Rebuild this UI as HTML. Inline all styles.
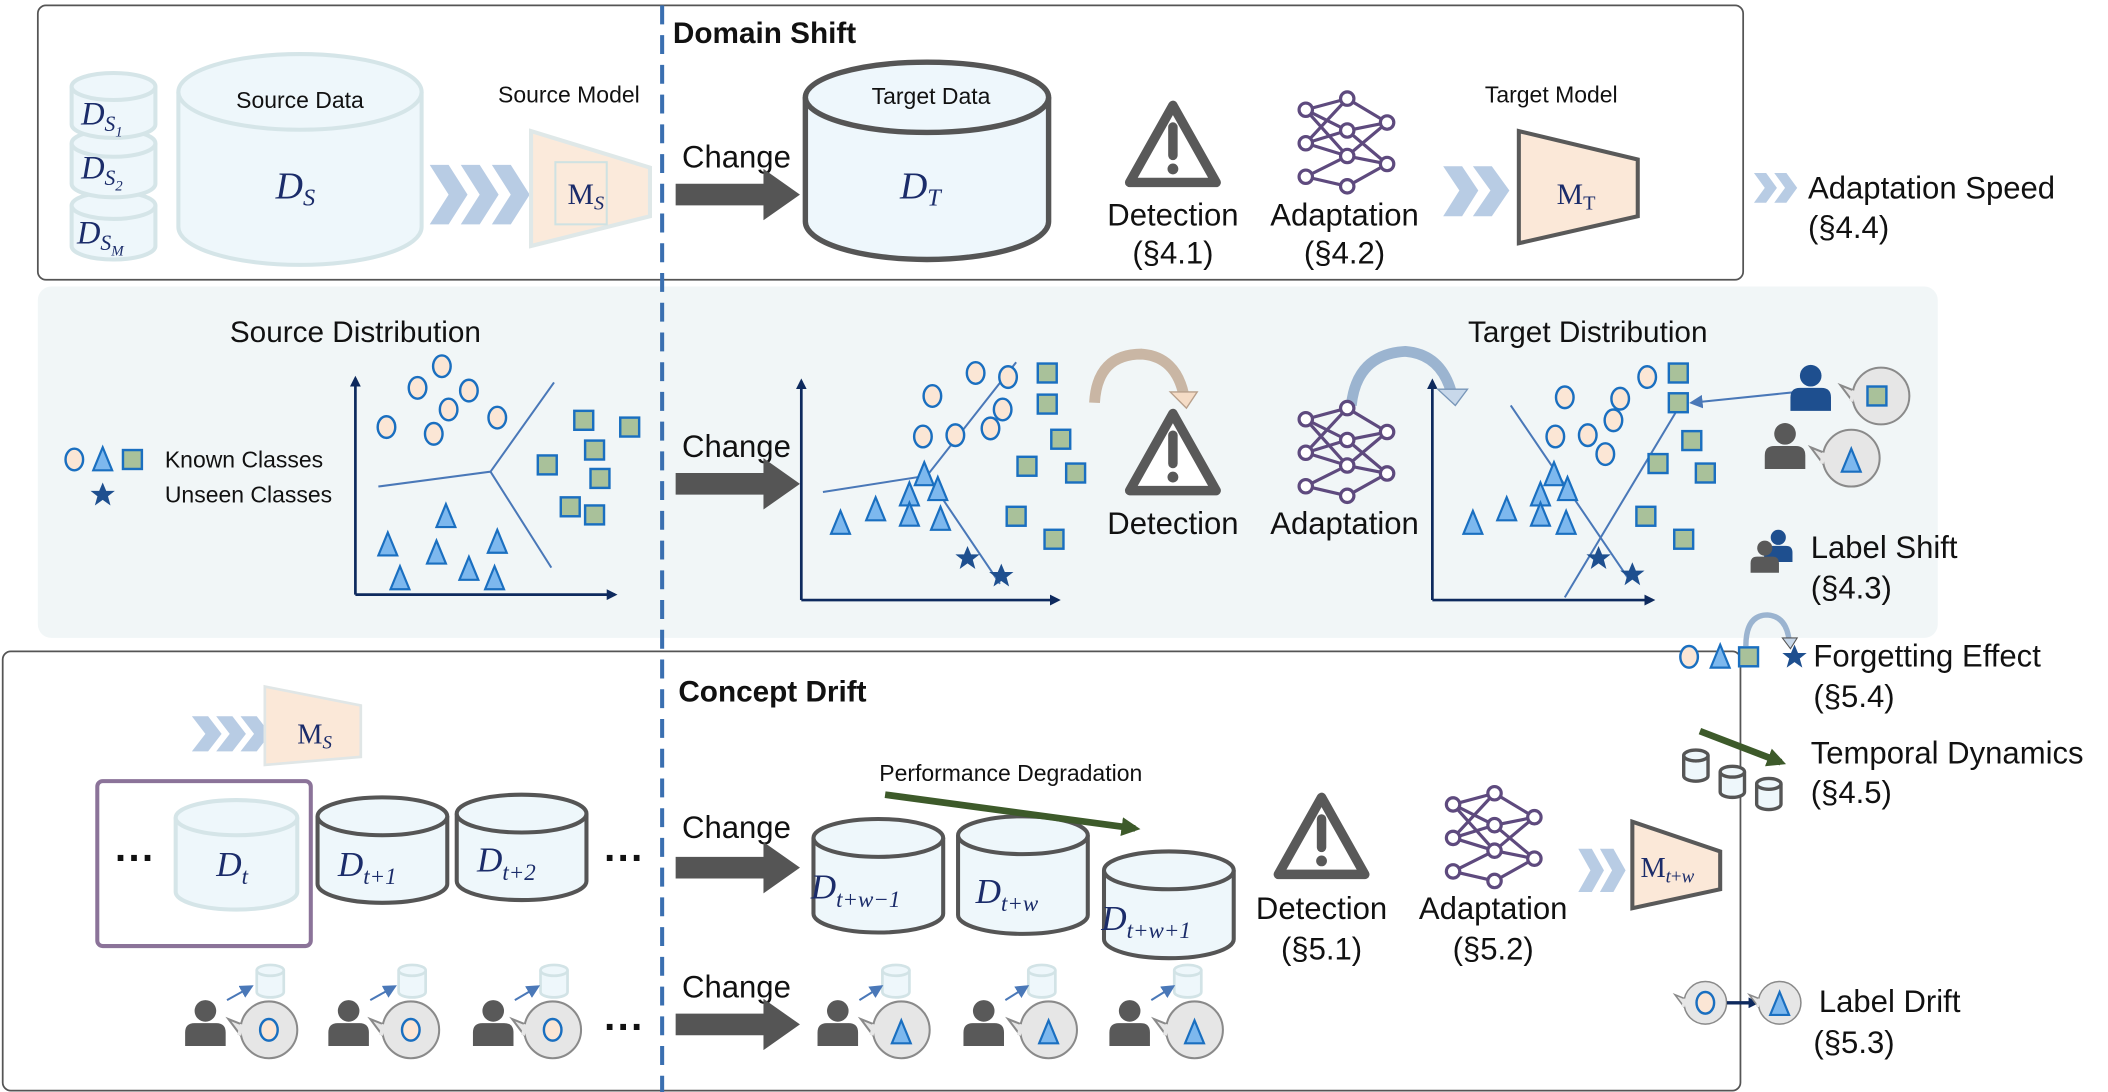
<!DOCTYPE html>
<html><head><meta charset="utf-8"><style>
html,body{margin:0;padding:0;background:#fff}
svg{display:block}
text{font-family:"Liberation Sans",sans-serif;fill:#111}
.m{font-family:"Liberation Serif",serif;font-style:italic;fill:#1b2c6a}
.r{font-family:"Liberation Serif",serif;fill:#1b2c6a}
</style></head><body>
<svg width="2108" height="1092" viewBox="0 0 1560 808" preserveAspectRatio="none" xmlns="http://www.w3.org/2000/svg">
<defs>
<marker id="ah" markerWidth="8" markerHeight="8" refX="6" refY="4" orient="auto" markerUnits="userSpaceOnUse"><path d="M0,0 L8,4 L0,8 Z" fill="#0e2a5e"/></marker>
<marker id="ab" markerWidth="10" markerHeight="10" refX="8" refY="5" orient="auto" markerUnits="userSpaceOnUse"><path d="M0,0 L10,5 L0,10 Z" fill="#4a78b8"/></marker>
<marker id="ag" markerWidth="14" markerHeight="14" refX="10" refY="7" orient="auto" markerUnits="userSpaceOnUse"><path d="M0,0 L14,7 L0,14 Z" fill="#3d5a2a"/></marker>
<g id="warn"><path d="M0,-30 L32,27 L-32,27 Z" fill="#fff" stroke="#595959" stroke-width="7" stroke-linejoin="round"/><line x1="0" y1="-14" x2="0" y2="7" stroke="#595959" stroke-width="7" stroke-linecap="round"/><circle cx="0" cy="17" r="4" fill="#595959"/></g>
<g id="net0" stroke="#5e4a7e" stroke-width="2" fill="#fff">
<path d="M-26,-21 L0,-28 M-26,-21 L0,-8 M-26,0 L0,-8 M-26,0 L0,8 M-26,0 L0,-28 M-26,21 L0,8 M-26,21 L0,27 M-26,-21 L0,8 M0,-28 L25,-13 M0,-8 L25,-13 M0,-8 L25,13 M0,8 L25,13 M0,8 L25,-13 M0,27 L25,13"/>
<circle cx="-26" cy="-21" r="4.2"/><circle cx="0" cy="-28" r="4.2"/><circle cx="25" cy="-13" r="4.2"/><circle cx="0" cy="-8" r="4.2"/><circle cx="-26" cy="0" r="4.2"/><circle cx="0" cy="8" r="4.2"/><circle cx="25" cy="13" r="4.2"/><circle cx="-26" cy="21" r="4.2"/><circle cx="0" cy="27" r="4.2"/></g>
<g id="net"><g transform="scale(1.18)"><use href="#net0"/></g></g>
<ellipse id="c" cx="0" cy="0" rx="6.5" ry="8" fill="#fbe6d5" stroke="#1a6fc0" stroke-width="1.8"/>
<rect id="s" x="-7" y="-7" width="14" height="14" fill="#a9c19a" stroke="#1a6fc0" stroke-width="1.8"/>
<path id="t" d="M0,-9 L7,8 L-7,8 Z" fill="#7db8ee" stroke="#1a6fc0" stroke-width="1.6"/>
<path id="st" d="M0,-9 L2.6,-2.8 L9,-2.8 L3.9,1.2 L5.8,8 L0,3.9 L-5.8,8 L-3.9,1.2 L-9,-2.8 L-2.6,-2.8 Z" fill="#1e4f8f"/>
<g id="per"><circle cx="0" cy="-12" r="8" fill="#595959"/><path d="M-15,14 L-15,4 Q-15,-3 -8,-3 L8,-3 Q15,-3 15,4 L15,14 Z" fill="#595959"/></g>
<g id="bub"><path d="M-20,-4 L-30,-8 L-21,4 Z" fill="#e6e6e6" stroke="#8a8a8a" stroke-width="1.5"/><circle cx="0" cy="0" r="21" fill="#e6e6e6" stroke="#8a8a8a" stroke-width="1.5"/><path d="M-20,-4 L-22,4" stroke="#e6e6e6" stroke-width="3"/></g>
<g id="scyl"><path d="M-10,-6 L-10,10 A10,4 0 0 0 10,10 L10,-6" fill="#eef7fb" stroke="#d2e3e6" stroke-width="2"/><ellipse cx="0" cy="-6" rx="10" ry="4" fill="#eef7fb" stroke="#d2e3e6" stroke-width="2"/></g>
<g id="dcyl"><path d="M-9,-6 L-9,9 A9,4 0 0 0 9,9 L9,-6" fill="#eef7fb" stroke="#555" stroke-width="2.5"/><ellipse cx="0" cy="-6" rx="9" ry="4" fill="#eef7fb" stroke="#555" stroke-width="2.5"/></g>
</defs>

<rect x="28" y="4" width="1262" height="203" rx="6" fill="#fff" stroke="#555" stroke-width="1.3"/>
<rect x="28" y="212" width="1406" height="260" rx="10" fill="#f1f6f7"/>
<rect x="2" y="482" width="1286" height="325" rx="6" fill="#fff" stroke="#555" stroke-width="1.3"/>
<line x1="490" y1="4" x2="490" y2="808" stroke="#3a6fb0" stroke-width="3" stroke-dasharray="14,8"/>

<text x="498" y="32" font-size="22" font-weight="bold">Domain Shift</text>
<g fill="#eef7fb" stroke="#d5e5e8" stroke-width="3">
<path d="M53,152 L53,182 A31,10 0 0 0 115,182 L115,152"/><ellipse cx="84" cy="152" rx="31" ry="10"/>
<path d="M53,106 L53,136 A31,10 0 0 0 115,136 L115,106"/><ellipse cx="84" cy="106" rx="31" ry="10"/>
<path d="M53,64 L53,92 A31,10 0 0 0 115,92 L115,64"/><ellipse cx="84" cy="64" rx="31" ry="10"/>
<path d="M132,68 L132,168 A90,28 0 0 0 312,168 L312,68"/><ellipse cx="222" cy="68" rx="90" ry="28"/>
</g>
<text class="m" x="60" y="92" font-size="24">D<tspan font-size="16" dy="5">S</tspan><tspan font-size="11" dy="4" class="r">1</tspan></text>
<text class="m" x="60" y="132" font-size="24">D<tspan font-size="16" dy="5">S</tspan><tspan font-size="11" dy="4" class="r">2</tspan></text>
<text class="m" x="57" y="180" font-size="24">D<tspan font-size="16" dy="5">S</tspan><tspan font-size="11" dy="4">M</tspan></text>
<text x="222" y="80" font-size="17" text-anchor="middle">Source Data</text>
<text class="m" x="204" y="147" font-size="28">D<tspan font-size="18" dy="5">S</tspan></text>
<g fill="#b8cce4"><path d="M318,122 L332,122 L346,144 L332,166 L318,166 L332,144Z"/><path d="M341,122 L355,122 L369,144 L355,166 L341,166 L355,144Z"/><path d="M364,122 L378,122 L392,144 L378,166 L364,166 L378,144Z"/></g>
<text x="421" y="76" font-size="17" text-anchor="middle">Source Model</text>
<path d="M393,97 L481,124 L481,160 L393,182 Z" fill="#fbeadb" stroke="#dfe8e8" stroke-width="3"/>
<rect x="411" y="120" width="38" height="46" fill="none" stroke="#cfe2e2" stroke-width="1.5"/>
<text class="r" x="420" y="151" font-size="22">M<tspan class="m" font-size="15" dy="4">S</tspan></text>
<text x="545" y="124" font-size="23" text-anchor="middle">Change</text>
<path d="M500,136 L565,136 L565,125 L592,144 L565,163 L565,152 L500,152Z" fill="#555"/>
<path d="M596,72 L596,164 A90,28 0 0 0 776,164 L776,72" fill="#eef7fc" stroke="#555" stroke-width="4"/><ellipse cx="686" cy="72" rx="90" ry="26" fill="#eef7fc" stroke="#555" stroke-width="4"/>
<text x="689" y="77" font-size="17" text-anchor="middle">Target Data</text>
<text class="m" x="666" y="147" font-size="28">D<tspan class="r" font-size="18" dy="5">T</tspan></text>
<use href="#warn" x="868" y="108"/>
<text x="868" y="167" font-size="23" text-anchor="middle">Detection</text>
<text x="868" y="195" font-size="23" text-anchor="middle">(§4.1)</text>
<use href="#net" x="997" y="106"/>
<text x="995" y="167" font-size="23" text-anchor="middle">Adaptation</text>
<text x="995" y="195" font-size="23" text-anchor="middle">(§4.2)</text>
<text x="1148" y="76" font-size="17" text-anchor="middle">Target Model</text>
<g fill="#b8cce4"><path d="M1068,123 L1082,123 L1094,141 L1082,160 L1068,160 L1080,141Z"/><path d="M1090,123 L1104,123 L1117,141 L1104,160 L1090,160 L1103,141Z"/></g>
<path d="M1124,97 L1212,118 L1212,160 L1124,180 Z" fill="#fbe8d8" stroke="#595959" stroke-width="3"/>
<text class="r" x="1152" y="151" font-size="22">M<tspan font-size="15" dy="4">T</tspan></text>
<g fill="#b8cce4"><path d="M1298,128 L1307,128 L1315,139 L1307,150 L1298,150 L1306,139Z"/><path d="M1313,128 L1322,128 L1330,139 L1322,150 L1313,150 L1321,139Z"/></g>
<text x="1338" y="147" font-size="23">Adaptation Speed</text>
<text x="1338" y="176" font-size="23">(§4.4)</text>

<text x="263" y="253" font-size="22" text-anchor="middle">Source Distribution</text>
<use href="#c" x="55" y="340"/><use href="#t" x="76" y="340"/><use href="#s" x="98" y="340"/><use href="#st" x="76" y="366"/>
<text x="122" y="346" font-size="17">Known Classes</text>
<text x="122" y="372" font-size="17">Unseen Classes</text>
<g stroke="#0e2a5e" stroke-width="2" fill="none"><path d="M263,440 L263,280" marker-end="url(#ah)"/><path d="M263,440 L455,440" marker-end="url(#ah)"/>
<path d="M593,444 L593,282" marker-end="url(#ah)"/><path d="M593,444 L783,444" marker-end="url(#ah)"/>
<path d="M1060,444 L1060,282" marker-end="url(#ah)"/><path d="M1060,444 L1223,444" marker-end="url(#ah)"/></g>
<g stroke="#4a78b8" stroke-width="1.5" fill="none"><path d="M280,360 L363,349 L410,283 M363,349 L408,420"/>
<path d="M609,364 L686,352 L752,268 M686,352 L740,432"/>
<path d="M1118,300 L1205,428 M1158,442 L1242,302"/></g>
<g><use href="#c" x="327" y="271"/><use href="#c" x="309" y="287"/><use href="#c" x="347" y="289"/><use href="#c" x="332" y="303"/><use href="#c" x="286" y="316"/><use href="#c" x="321" y="321"/><use href="#c" x="368" y="309"/>
<use href="#s" x="432" y="311"/><use href="#s" x="466" y="316"/><use href="#s" x="440" y="333"/><use href="#s" x="405" y="344"/><use href="#s" x="444" y="354"/><use href="#s" x="422" y="375"/><use href="#s" x="440" y="381"/>
<use href="#t" x="330" y="382"/><use href="#t" x="287" y="403"/><use href="#t" x="323" y="409"/><use href="#t" x="368" y="401"/><use href="#t" x="296" y="428"/><use href="#t" x="347" y="421"/><use href="#t" x="366" y="428"/></g>
<text x="545" y="338" font-size="23" text-anchor="middle">Change</text>
<path d="M500,350 L565,350 L565,339 L592,358 L565,377 L565,366 L500,366Z" fill="#555"/>
<g><use href="#c" x="722" y="276"/><use href="#c" x="746" y="279"/><use href="#c" x="690" y="293"/><use href="#c" x="742" y="303"/><use href="#c" x="733" y="317"/><use href="#c" x="683" y="323"/><use href="#c" x="707" y="322"/>
<use href="#s" x="775" y="276"/><use href="#s" x="775" y="299"/><use href="#s" x="785" y="325"/><use href="#s" x="760" y="345"/><use href="#s" x="796" y="350"/><use href="#s" x="752" y="382"/><use href="#s" x="780" y="399"/>
<use href="#t" x="684" y="351"/><use href="#t" x="673" y="366"/><use href="#t" x="694" y="362"/><use href="#t" x="622" y="387"/><use href="#t" x="648" y="377"/><use href="#t" x="673" y="381"/><use href="#t" x="696" y="384"/>
<use href="#st" x="716" y="413"/><use href="#st" x="741" y="426"/></g>
<path d="M810,298 Q812,262 845,262 Q870,264 876,292" fill="none" stroke="#c9b6a4" stroke-width="8"/><path d="M866,290 L886,290 L878,302Z" fill="#f5dcc6" stroke="#b8a08c"/>
<use href="#warn" x="868" y="336"/>
<text x="868" y="395" font-size="23" text-anchor="middle">Detection</text>
<path d="M1000,300 Q1004,262 1040,260 Q1066,262 1074,290" fill="none" stroke="#9bb4d0" stroke-width="8"/><path d="M1064,288 L1086,288 L1077,300Z" fill="#c8d8ea" stroke="#7896b8"/>
<use href="#net" x="997" y="335"/>
<text x="995" y="395" font-size="23" text-anchor="middle">Adaptation</text>
<text x="1175" y="253" font-size="22" text-anchor="middle">Target Distribution</text>
<g><use href="#c" x="1158" y="294"/><use href="#c" x="1199" y="295"/><use href="#c" x="1194" y="311"/><use href="#c" x="1175" y="322"/><use href="#c" x="1151" y="323"/><use href="#c" x="1219" y="279"/><use href="#c" x="1188" y="336"/>
<use href="#s" x="1242" y="276"/><use href="#s" x="1242" y="298"/><use href="#s" x="1252" y="326"/><use href="#s" x="1227" y="343"/><use href="#s" x="1262" y="350"/><use href="#s" x="1218" y="382"/><use href="#s" x="1246" y="399"/>
<use href="#t" x="1150" y="351"/><use href="#t" x="1140" y="366"/><use href="#t" x="1160" y="362"/><use href="#t" x="1090" y="387"/><use href="#t" x="1115" y="377"/><use href="#t" x="1140" y="381"/><use href="#t" x="1159" y="387"/>
<use href="#st" x="1183" y="413"/><use href="#st" x="1208" y="425"/></g>
<path d="M1330,290 L1252,298" stroke="#4a78b8" stroke-width="1.5" marker-end="url(#ab)"/>
<g transform="translate(1340,290)"><circle cx="0" cy="-12" r="8" fill="#1e4f8f"/><path d="M-15,14 L-15,4 Q-15,-3 -8,-3 L8,-3 Q15,-3 15,4 L15,14 Z" fill="#1e4f8f"/></g>
<use href="#bub" x="1392" y="293"/><use href="#s" x="1389" y="293"/>
<use href="#per" x="1321" y="333"/>
<use href="#bub" x="1370" y="339"/><use href="#t" x="1370" y="341"/>
<g transform="translate(1316,406) scale(0.7)"><circle cx="0" cy="-12" r="8" fill="#1e4f8f"/><path d="M-15,14 L-15,4 Q-15,-3 -8,-3 L8,-3 Q15,-3 15,4 L15,14 Z" fill="#1e4f8f"/></g>
<g transform="translate(1306,414) scale(0.7)"><use href="#per"/></g>
<text x="1340" y="413" font-size="23">Label Shift</text>
<text x="1340" y="443" font-size="23">(§4.3)</text>

<use href="#c" x="1250" y="486"/><use href="#t" x="1273" y="486"/><use href="#s" x="1294" y="486"/>
<path d="M1292,478 Q1292,455 1308,455 Q1322,456 1324,474" fill="none" stroke="#9bb4d0" stroke-width="4"/><path d="M1319,472 L1330,472 L1325,480Z" fill="#c8d8ea" stroke="#555" stroke-width="0.8"/>
<use href="#st" x="1328" y="486"/>
<text x="1342" y="493" font-size="23">Forgetting Effect</text>
<text x="1342" y="523" font-size="23">(§5.4)</text>
<path d="M1258,541 L1318,564" stroke="#3d5a2a" stroke-width="5" marker-end="url(#ag)"/>
<use href="#dcyl" x="1255" y="565"/><use href="#dcyl" x="1282" y="577"/><use href="#dcyl" x="1309" y="586"/>
<text x="1340" y="565" font-size="23">Temporal Dynamics</text>
<text x="1340" y="594" font-size="23">(§4.5)</text>
<g transform="translate(1262,742) scale(0.75)"><use href="#bub"/></g><use href="#c" x="1262" y="742"/>
<path d="M1278,742 L1300,742" stroke="#0e2a5e" stroke-width="2.5" marker-end="url(#ah)"/>
<g transform="translate(1317,742) scale(0.75)"><use href="#bub"/></g><use href="#t" x="1317" y="743"/>
<text x="1346" y="749" font-size="23">Label Drift</text>
<text x="1342" y="779" font-size="23">(§5.3)</text>

<text x="502" y="519" font-size="22" font-weight="bold">Concept Drift</text>
<g fill="#b8cce4"><path d="M142,530 L154,530 L164,543 L154,556 L142,556 L152,543Z"/><path d="M160,530 L172,530 L182,543 L172,556 L160,556 L170,543Z"/><path d="M178,530 L190,530 L200,543 L190,556 L178,556 L188,543Z"/></g>
<path d="M196,508 L267,522 L267,560 L196,566 Z" fill="#fbe8d8" stroke="#e0e6e6" stroke-width="2"/>
<text class="r" x="220" y="550" font-size="21">M<tspan class="m" font-size="14" dy="4">S</tspan></text>
<rect x="72" y="578" width="158" height="122" rx="4" fill="none" stroke="#8b7399" stroke-width="3"/>
<text x="100" y="645" font-size="30" text-anchor="middle" font-weight="bold">···</text>
<path d="M130,605 L130,660 A45,13 0 0 0 220,660 L220,605" fill="#eef7fb" stroke="#d5e5e8" stroke-width="3"/><ellipse cx="175" cy="605" rx="45" ry="13" fill="#eef7fb" stroke="#d5e5e8" stroke-width="3"/>
<text class="m" x="160" y="648" font-size="26">D<tspan font-size="17" dy="6">t</tspan></text>
<g fill="#eef7fb" stroke="#555" stroke-width="3">
<path d="M235,604 L235,654 A48,14 0 0 0 331,654 L331,604"/><ellipse cx="283" cy="604" rx="48" ry="14"/>
<path d="M338,602 L338,652 A48,14 0 0 0 434,652 L434,602"/><ellipse cx="386" cy="602" rx="48" ry="14"/>
<path d="M602,620 L602,676 A48,14 0 0 0 698,676 L698,620"/><ellipse cx="650" cy="620" rx="48" ry="14"/>
<path d="M709,618 L709,677 A48,14 0 0 0 805,677 L805,618"/><ellipse cx="757" cy="618" rx="48" ry="14"/>
<path d="M817,644 L817,695 A48,14 0 0 0 913,695 L913,644"/><ellipse cx="865" cy="644" rx="48" ry="14"/>
</g>
<text class="m" x="250" y="648" font-size="26">D<tspan font-size="17" dy="6">t</tspan><tspan class="r" font-size="17">+1</tspan></text>
<text class="m" x="353" y="645" font-size="26">D<tspan font-size="17" dy="6">t</tspan><tspan class="r" font-size="17">+2</tspan></text>
<text x="462" y="645" font-size="30" text-anchor="middle" font-weight="bold">···</text>
<text x="545" y="620" font-size="23" text-anchor="middle">Change</text>
<path d="M500,634 L565,634 L565,623 L592,642 L565,661 L565,650 L500,650Z" fill="#555"/>
<text x="748" y="578" font-size="17" text-anchor="middle">Performance Degradation</text>
<path d="M655,588 L840,613" stroke="#3d5a2a" stroke-width="5" marker-end="url(#ag)"/>
<text class="m" x="600" y="665" font-size="26">D<tspan font-size="17" dy="6">t</tspan><tspan class="r" font-size="17">+</tspan><tspan font-size="17">w</tspan><tspan class="r" font-size="17">−1</tspan></text>
<text class="m" x="722" y="668" font-size="26">D<tspan font-size="17" dy="6">t</tspan><tspan class="r" font-size="17">+</tspan><tspan font-size="17">w</tspan></text>
<text class="m" x="815" y="688" font-size="26">D<tspan font-size="17" dy="6">t</tspan><tspan class="r" font-size="17">+</tspan><tspan font-size="17">w</tspan><tspan class="r" font-size="17">+1</tspan></text>
<use href="#warn" x="978" y="620"/>
<text x="978" y="680" font-size="23" text-anchor="middle">Detection</text>
<text x="978" y="710" font-size="23" text-anchor="middle">(§5.1)</text>
<use href="#net" x="1106" y="620"/>
<text x="1105" y="680" font-size="23" text-anchor="middle">Adaptation</text>
<text x="1105" y="710" font-size="23" text-anchor="middle">(§5.2)</text>
<g fill="#b8cce4"><path d="M1168,628 L1178,628 L1187,644 L1178,660 L1168,660 L1177,644Z"/><path d="M1184,628 L1194,628 L1203,644 L1194,660 L1184,660 L1193,644Z"/></g>
<path d="M1208,608 L1273,630 L1273,658 L1208,672 Z" fill="#fbe8d8" stroke="#595959" stroke-width="3"/>
<text class="r" x="1214" y="649" font-size="21">M<tspan class="m" font-size="14" dy="4">t</tspan><tspan font-size="14">+</tspan><tspan class="m" font-size="14">w</tspan></text>

<g>
<use href="#per" x="152" y="760"/><use href="#scyl" x="200" y="724"/><path d="M168,740 L186,730" stroke="#4a78b8" stroke-width="1.5" marker-end="url(#ab)"/><use href="#bub" x="199" y="762"/><use href="#c" x="199" y="762"/>
<use href="#per" x="258" y="760"/><use href="#scyl" x="305" y="724"/><path d="M274,740 L292,730" stroke="#4a78b8" stroke-width="1.5" marker-end="url(#ab)"/><use href="#bub" x="304" y="762"/><use href="#c" x="304" y="762"/>
<use href="#per" x="365" y="760"/><use href="#scyl" x="410" y="724"/><path d="M381,740 L398,730" stroke="#4a78b8" stroke-width="1.5" marker-end="url(#ab)"/><use href="#bub" x="409" y="762"/><use href="#c" x="409" y="762"/>
<text x="462" y="770" font-size="30" text-anchor="middle" font-weight="bold">···</text>
<text x="545" y="738" font-size="23" text-anchor="middle">Change</text>
<path d="M500,750 L565,750 L565,739 L592,758 L565,777 L565,766 L500,766Z" fill="#555"/>
<use href="#per" x="620" y="760"/><use href="#scyl" x="663" y="724"/><path d="M636,740 L652,730" stroke="#4a78b8" stroke-width="1.5" marker-end="url(#ab)"/><use href="#bub" x="667" y="762"/><use href="#t" x="667" y="764"/>
<use href="#per" x="728" y="760"/><use href="#scyl" x="771" y="724"/><path d="M744,740 L760,730" stroke="#4a78b8" stroke-width="1.5" marker-end="url(#ab)"/><use href="#bub" x="776" y="762"/><use href="#t" x="776" y="764"/>
<use href="#per" x="836" y="760"/><use href="#scyl" x="879" y="724"/><path d="M852,740 L868,730" stroke="#4a78b8" stroke-width="1.5" marker-end="url(#ab)"/><use href="#bub" x="884" y="762"/><use href="#t" x="884" y="764"/>
</g>
</svg>
</body></html>
